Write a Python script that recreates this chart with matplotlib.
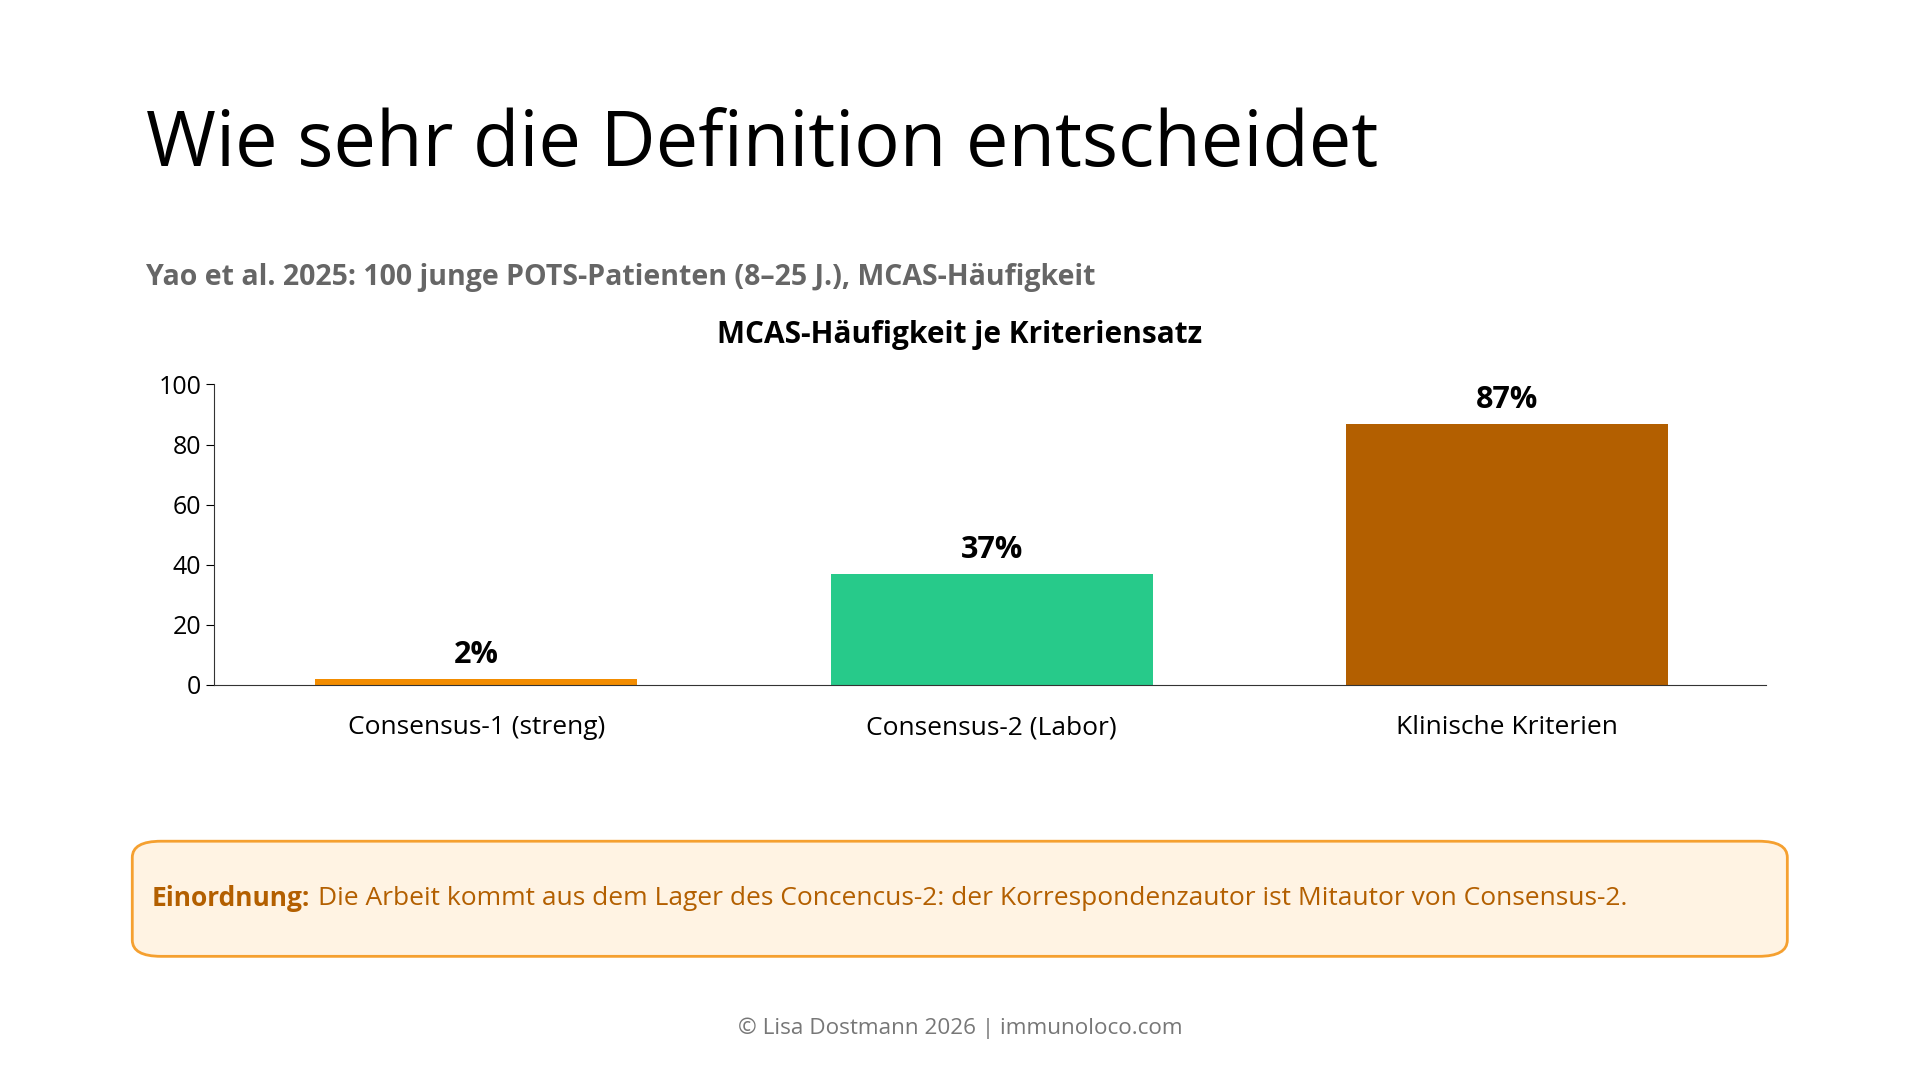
import matplotlib
matplotlib.use("Agg")
import matplotlib.pyplot as plt
from matplotlib.patches import FancyBboxPatch

plt.rcParams['font.family'] = ['Open Sans', 'DejaVu Sans']

categories = ["Consensus-1 (streng)", "Consensus-2 (Labor)", "Klinische Kriterien"]
values = [2, 37, 87]
colors = ["#F28C00", "#27CA8A", "#B35F00"]
yticks = [0, 20, 40, 60, 80, 100]

fig = plt.figure(figsize=(19.2, 10.8), dpi=100)
fig.text(0.076, 0.865, "Wie sehr die Definition entscheidet", fontsize=54.5, va='center', ha='left', color='black')
fig.text(0.076, 0.743, "Yao et al. 2025: 100 junge POTS-Patienten (8–25 J.), MCAS-Häufigkeit",
         fontsize=20.5, fontweight='bold', color='#666666', va='center')
fig.text(0.5, 0.69, "MCAS-Häufigkeit je Kriteriensatz", fontsize=21.5, fontweight='bold', ha='center', va='center')

ax = fig.add_axes([0.1116, 0.366, 0.808, 0.278])
x = range(len(categories))
ax.bar(x, values, width=0.625, color=colors)
for xi, v in zip(x, values):
    ax.text(xi, v + 3, f"{v}%", ha='center', va='bottom', fontsize=22, fontweight='bold')
ax.set_xlim(-0.508, 2.501)
ax.set_ylim(0, 100)
ax.set_yticks(yticks)
ax.set_xticks(list(x))
ax.set_xticklabels(categories)
ax.tick_params(axis='x', length=0, labelsize=19, pad=22)
ax.tick_params(axis='y', labelsize=18, length=6)
for s in ['top', 'right']:
    ax.spines[s].set_visible(False)
ax.spines['left'].set_color('#333333')
ax.spines['bottom'].set_color('#333333')

box = FancyBboxPatch((0.0689, 0.1145), 0.862, 0.1066, boxstyle="round,pad=0,rounding_size=0.015",
                     transform=fig.transFigure, facecolor='#FFF3E3', edgecolor='#F5A030', linewidth=2)
fig.patches.append(box)
t1 = fig.text(0.079, 0.168, "Einordnung:", fontsize=19, fontweight='bold', color='#B35F00', va='center')
fig.canvas.draw()
bb = t1.get_window_extent()
x2 = bb.x1 / fig.bbox.width + 0.004
fig.text(x2, 0.168, "Die Arbeit kommt aus dem Lager des Concencus-2: der Korrespondenzautor ist Mitautor von Consensus-2.",
         fontsize=19, color='#B35F00', va='center')

fig.text(0.5, 0.0476, "© Lisa Dostmann 2026 | immunoloco.com", fontsize=16.2, color='#777777', ha='center', va='center')
fig.savefig("out.png", dpi=100, facecolor='white')
